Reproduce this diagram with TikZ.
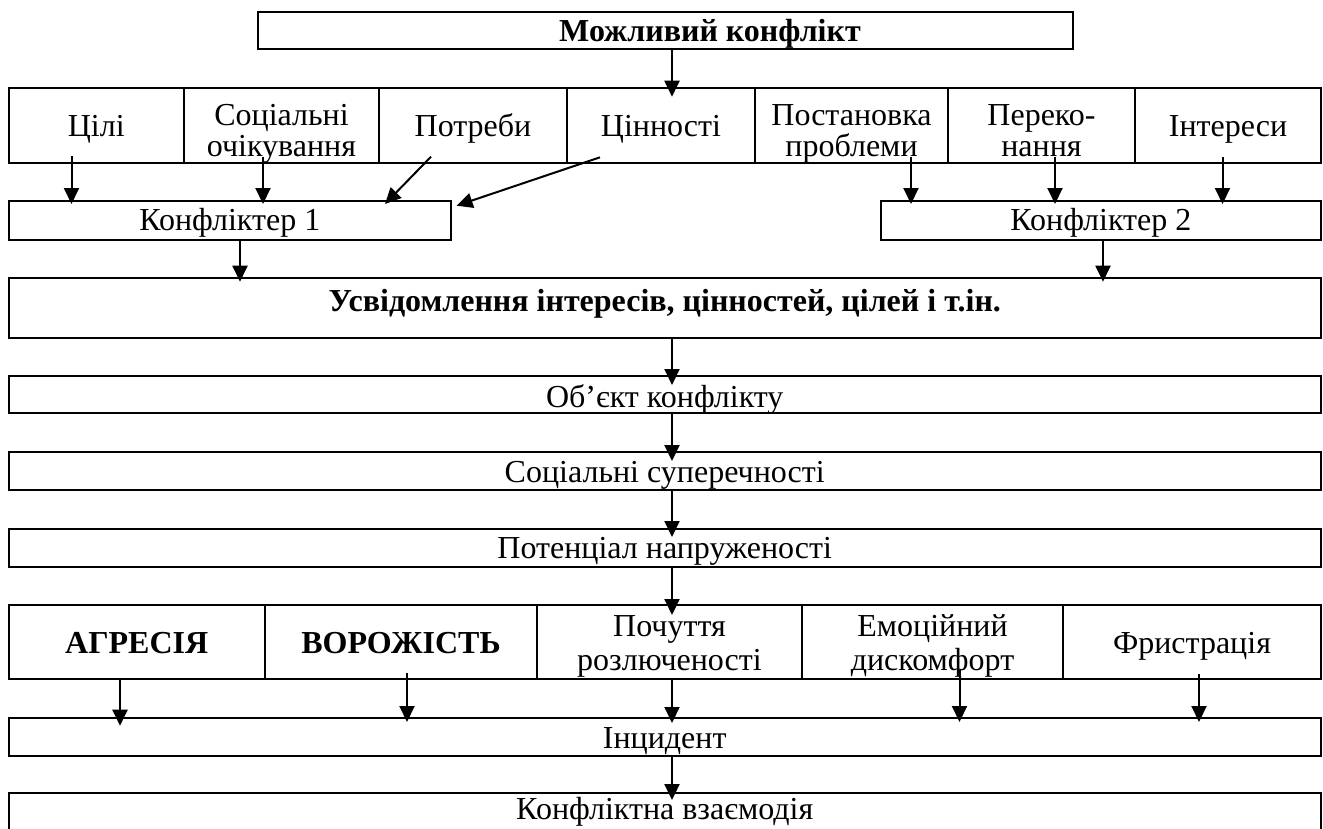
\documentclass[tikz,border=0pt]{standalone}
\usepackage{fontspec}
\setmainfont{Liberation Serif}
\usetikzlibrary{arrows.meta}
\newcommand\twol[3][32pt]{\vtop{\baselineskip=#1\lineskiplimit=-100pt\lineskip=0pt\halign{\hfil##\hfil\cr#2\cr#3\cr}}}
\tikzset{
  box/.style n args={2}{draw, line width=2pt, inner sep=0pt, outer sep=0pt, minimum width=#1, minimum height=#2},
  txt/.style={inner sep=0pt, anchor=base, font=\fontsize{32}{32}\selectfont},
  btxt/.style={inner sep=0pt, anchor=base, font=\fontsize{32}{32}\selectfont\bfseries},
  arr/.style={line width=2pt, -{Triangle[length=16pt,width=15pt]}}
}
\begin{document}
\begin{tikzpicture}[x=1pt,y=-1pt]
\useasboundingbox (0,0) rectangle (1323,828);
% boxes
\node[box={815pt}{37pt}] (top) at (665.5,30.8) {};
\node[box={175.5pt}{74.4pt}] (c1) at (96.25,125.5) {};
\node[box={195pt}{74.4pt}] (c2) at (281.5,125.5) {};
\node[box={188pt}{74.4pt}] (c3) at (473,125.5) {};
\node[box={188pt}{74.4pt}] (c4) at (661,125.5) {};
\node[box={193pt}{74.4pt}] (c5) at (851.5,125.5) {};
\node[box={187pt}{74.4pt}] (c6) at (1041.5,125.5) {};
\node[box={186pt}{74.4pt}] (c7) at (1228,125.5) {};
\node[box={442.5pt}{39.3pt}] (k1) at (229.75,220.35) {};
\node[box={440.3pt}{39.3pt}] (k2) at (1100.85,220.35) {};
\node[box={1312.5pt}{60pt}] (u) at (664.75,307.7) {};
\node[box={1312.5pt}{37.6pt}] (o) at (664.75,394.5) {};
\node[box={1312.5pt}{37.8pt}] (s) at (664.75,470.6) {};
\node[box={1312.5pt}{38.2pt}] (p) at (664.75,547.6) {};
\node[box={256.5pt}{74pt}] (d1) at (136.75,642) {};
\node[box={272pt}{74pt}] (d2) at (401,642) {};
\node[box={265pt}{74pt}] (d3) at (669.5,642) {};
\node[box={261pt}{74pt}] (d4) at (932.5,642) {};
\node[box={258pt}{74pt}] (d5) at (1192,642) {};
\node[box={1312.5pt}{37.4pt}] (i) at (664.75,737) {};
\node[box={1312.5pt}{37.7pt}] (kv) at (664.75,812.2) {};
% texts
\node[btxt] (ttop) at (710,41.7) {Можливий конфлікт};
\node[txt] (t1) at (96.25,136.5) {Цілі};
\node[txt] (t2) at (281.5,125) {\twol[31pt]{Соціальні}{очікування}};
\node[txt] (t3) at (473,136.5) {Потреби};
\node[txt] (t4) at (661,136.5) {Цінності};
\node[txt] (t5) at (851.5,125) {\twol[31pt]{Постановка}{проблеми}};
\node[txt] (t6) at (1041.5,125) {\twol[31pt]{Переко-}{нання}};
\node[txt] (t7) at (1228,136.5) {Інтереси};
\node[txt] (tk1) at (229.75,230) {Конфліктер 1};
\node[txt] (tk2) at (1100.85,230) {Конфліктер 2};
\node[btxt] (tu) at (664.75,311) {Усвідомлення інтересів, цінностей, цілей і т.ін.};
\node[txt] (to) at (664.75,407) {Об’єкт конфлікту};
\node[txt] (ts) at (664.75,482) {Соціальні суперечності};
\node[txt] (tp) at (664.75,558.5) {Потенціал напруженості};
\node[btxt] (td1) at (136.75,653) {АГРЕСІЯ};
\node[btxt] (td2) at (401,653) {ВОРОЖІСТЬ};
\node[txt] (td3) at (669.5,636) {\twol[34pt]{Почуття}{розлюченості}};
\node[txt] (td4) at (932.5,636) {\twol[34pt]{Емоційний}{дискомфорт}};
\node[txt] (td5) at (1192,653) {Фристрація};
\node[txt] (ti) at (664.75,748) {Інцидент};
\node[txt] (tkv) at (664.75,819) {Конфліктна взаємодія};
% arrows
\draw[arr] ([xshift=6.5pt]top.south) -- ([xshift=11pt,yshift=-8.4pt]c4.north);
\draw[arr] ([xshift=-24.75pt,yshift=6.7pt]c1.south) -- ([xshift=-158.25pt,yshift=-3.3pt]k1.north);
\draw[arr] ([xshift=-18.5pt,yshift=6pt]c2.south) -- ([xshift=33.25pt,yshift=-3.3pt]k1.north);
\draw[arr] ([xshift=-42pt,yshift=6pt]c3.south) -- ([xshift=155.25pt,yshift=-3.3pt]k1.north);
\draw[arr] ([xshift=-61pt,yshift=5.4pt]c4.south) -- ([xshift=5.6pt,yshift=-5pt]k1.north east);
\draw[arr] ([xshift=59.5pt,yshift=6pt]c5.south) -- ([xshift=-189.85pt,yshift=-3.3pt]k2.north);
\draw[arr] ([xshift=13.5pt,yshift=6pt]c6.south) -- ([xshift=-45.85pt,yshift=-3.3pt]k2.north);
\draw[arr] ([xshift=-5.5pt,yshift=6pt]c7.south) -- ([xshift=121.65pt,yshift=-3.3pt]k2.north);
\draw[arr] ([xshift=10.25pt]k1.south) -- ([xshift=-424.75pt,yshift=-4pt]u.north);
\draw[arr] ([xshift=2.15pt]k2.south) -- ([xshift=438.25pt,yshift=-4pt]u.north);
\draw[arr] ([xshift=7.25pt]u.south) -- ([xshift=7.25pt,yshift=-9.3pt]o.north);
\draw[arr] ([xshift=7.25pt]o.south) -- ([xshift=7.25pt,yshift=-9.3pt]s.north);
\draw[arr] ([xshift=7.25pt]s.south) -- ([xshift=7.25pt,yshift=-8.5pt]p.north);
\draw[arr] ([xshift=7.25pt]p.south) -- ([xshift=2.5pt,yshift=-10pt]d3.north);
\draw[arr] ([xshift=-16.75pt,yshift=1.3pt]d1.south) -- ([xshift=-544.75pt,yshift=-7.4pt]i.north);
\draw[arr] ([xshift=6pt,yshift=6pt]d2.south) -- ([xshift=-257.75pt,yshift=-3.7pt]i.north);
\draw[arr] ([xshift=2.5pt,yshift=1.3pt]d3.south) -- ([xshift=7.25pt,yshift=-4.7pt]i.north);
\draw[arr] ([xshift=27pt,yshift=9pt]d4.south) -- ([xshift=294.75pt,yshift=-3.7pt]i.north);
\draw[arr] ([xshift=7pt,yshift=5pt]d5.south) -- ([xshift=534.25pt,yshift=-3.7pt]i.north);
\draw[arr] ([xshift=7.25pt]i.south) -- ([xshift=7.25pt,yshift=-6.7pt]kv.north);
\end{tikzpicture}
\end{document}
